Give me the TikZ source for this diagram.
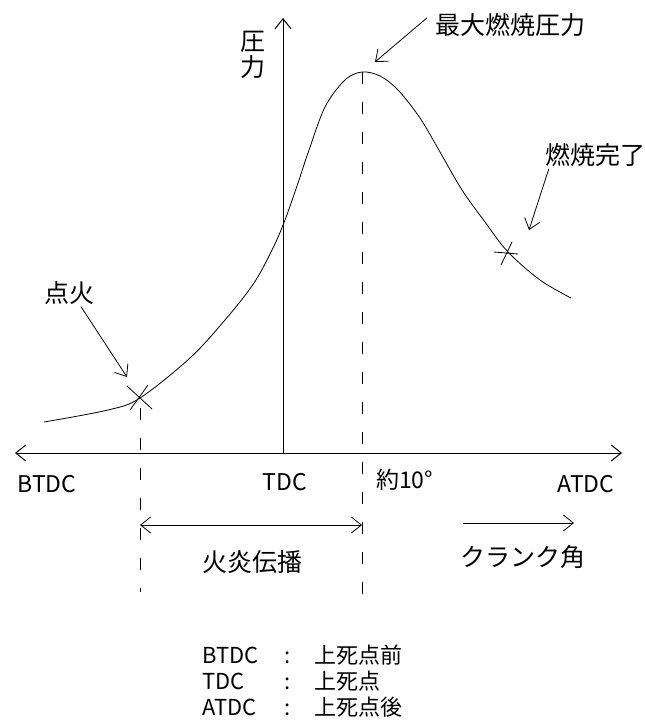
\documentclass[tikz,border=0pt]{standalone}
\usepackage{fontspec}
\usepackage{tikz}
\usetikzlibrary{arrows.meta}
\newfontfamily\jpfont{Noto Sans CJK JP}
\tikzset{
	barb/.style={-{Straight Barb[length=10pt,width=16pt]}},
	dbarb/.style={{Straight Barb[length=10pt,width=16pt]}-{Straight Barb[length=10pt,width=16pt]}},
	guide/.style={dash pattern=on 12pt off 18pt, line width=0.9pt},
	latin/.style={font=\jpfont\fontsize{23}{25}\selectfont},
}

\begin{document}
\begin{tikzpicture}[x=1pt,y=-1pt]
\tikzstyle{every node}=[font=\jpfont\fontsize{25}{25}\selectfont, inner sep=2pt]
\useasboundingbox (0,0) rectangle (645,720);

\coordinate (ax-left) at (15,453);
\coordinate (ax-right) at (622,453);
\coordinate (tdc) at (283,453);
\coordinate (ax-top) at (283,18);
\coordinate (ign) at (140,398);
\coordinate (peak) at (362,72);
\coordinate (burnend) at (508,252);

\draw[dbarb, line width=1pt] (ax-left) -- (ax-right);
\draw[barb, line width=1pt] (tdc) -- (ax-top);

\draw[line width=0.8pt] plot[smooth, tension=0.55] coordinates {
	(44,422) (108,410) (ign) (190,358) (225,320) (254,283) (273,248)
	(285,220) (298,183) (308,153) (325,107) (345,80) (peak) (380,76)
	(398,90) (420,118) (440,152) (462,190) (485,222) (burnend) (540,280) (571,298)};

\draw[line width=0.8pt] ([shift={(-13,-12)}]ign) -- ([shift={(12,11)}]ign);
\draw[line width=0.8pt] ([shift={(8,-13)}]ign) -- ([shift={(-10,12)}]ign);
\draw[line width=0.8pt] ([shift={(-14,0)}]burnend) -- ([shift={(10,2)}]burnend);
\draw[line width=0.8pt] ([shift={(4,-10)}]burnend) -- ([shift={(-7,13)}]burnend);

\draw[guide] ([yshift=-10pt]ign) -- (140,592);
\draw[guide] (peak) -- (362,598);

\node (pres) at (253,55) {\shortstack{圧\\力}};
\node (maxlbl) at (510,25) {最大燃焼圧力};
\node (endlbl) at (595,155) {燃焼完了};
\node (tenka) at (69,293) {点火};

\draw[barb, line width=0.8pt] ([shift={(-6,-7)}]maxlbl.west) -- (375,62);
\draw[barb, line width=0.8pt] ([xshift=6pt]endlbl.south west) -- (529,230);
\draw[barb, line width=0.8pt] ([xshift=12pt]tenka.south) -- (127,377);

\node[latin] (btdc) at (47,484) {BTDC};
\node[latin] (tdclbl) at (285,482) {TDC};
\node[latin, anchor=west] (ten) at (374,480) {約10°};
\node[latin] (atdc) at (586,484) {ATDC};

\draw[dbarb, line width=0.8pt] (140,525) -- (362,525);
\node (flame) at (252,562) {火炎伝播};
\draw[barb, line width=0.8pt] (463,523) -- (574,523);
\node (crank) at (523,557) {クランク角};

\node[anchor=north west, inner sep=0pt, font=\jpfont\fontsize{22}{24}\selectfont] (legend) at (202,645) {%
	\begin{tabular}{@{}l@{\hspace{26pt}}l@{\hspace{24pt}}l@{}}
	BTDC & : & 上死点前\\
	TDC  & : & 上死点\\
	ATDC & : & 上死点後
	\end{tabular}};
\end{tikzpicture}
\end{document}
